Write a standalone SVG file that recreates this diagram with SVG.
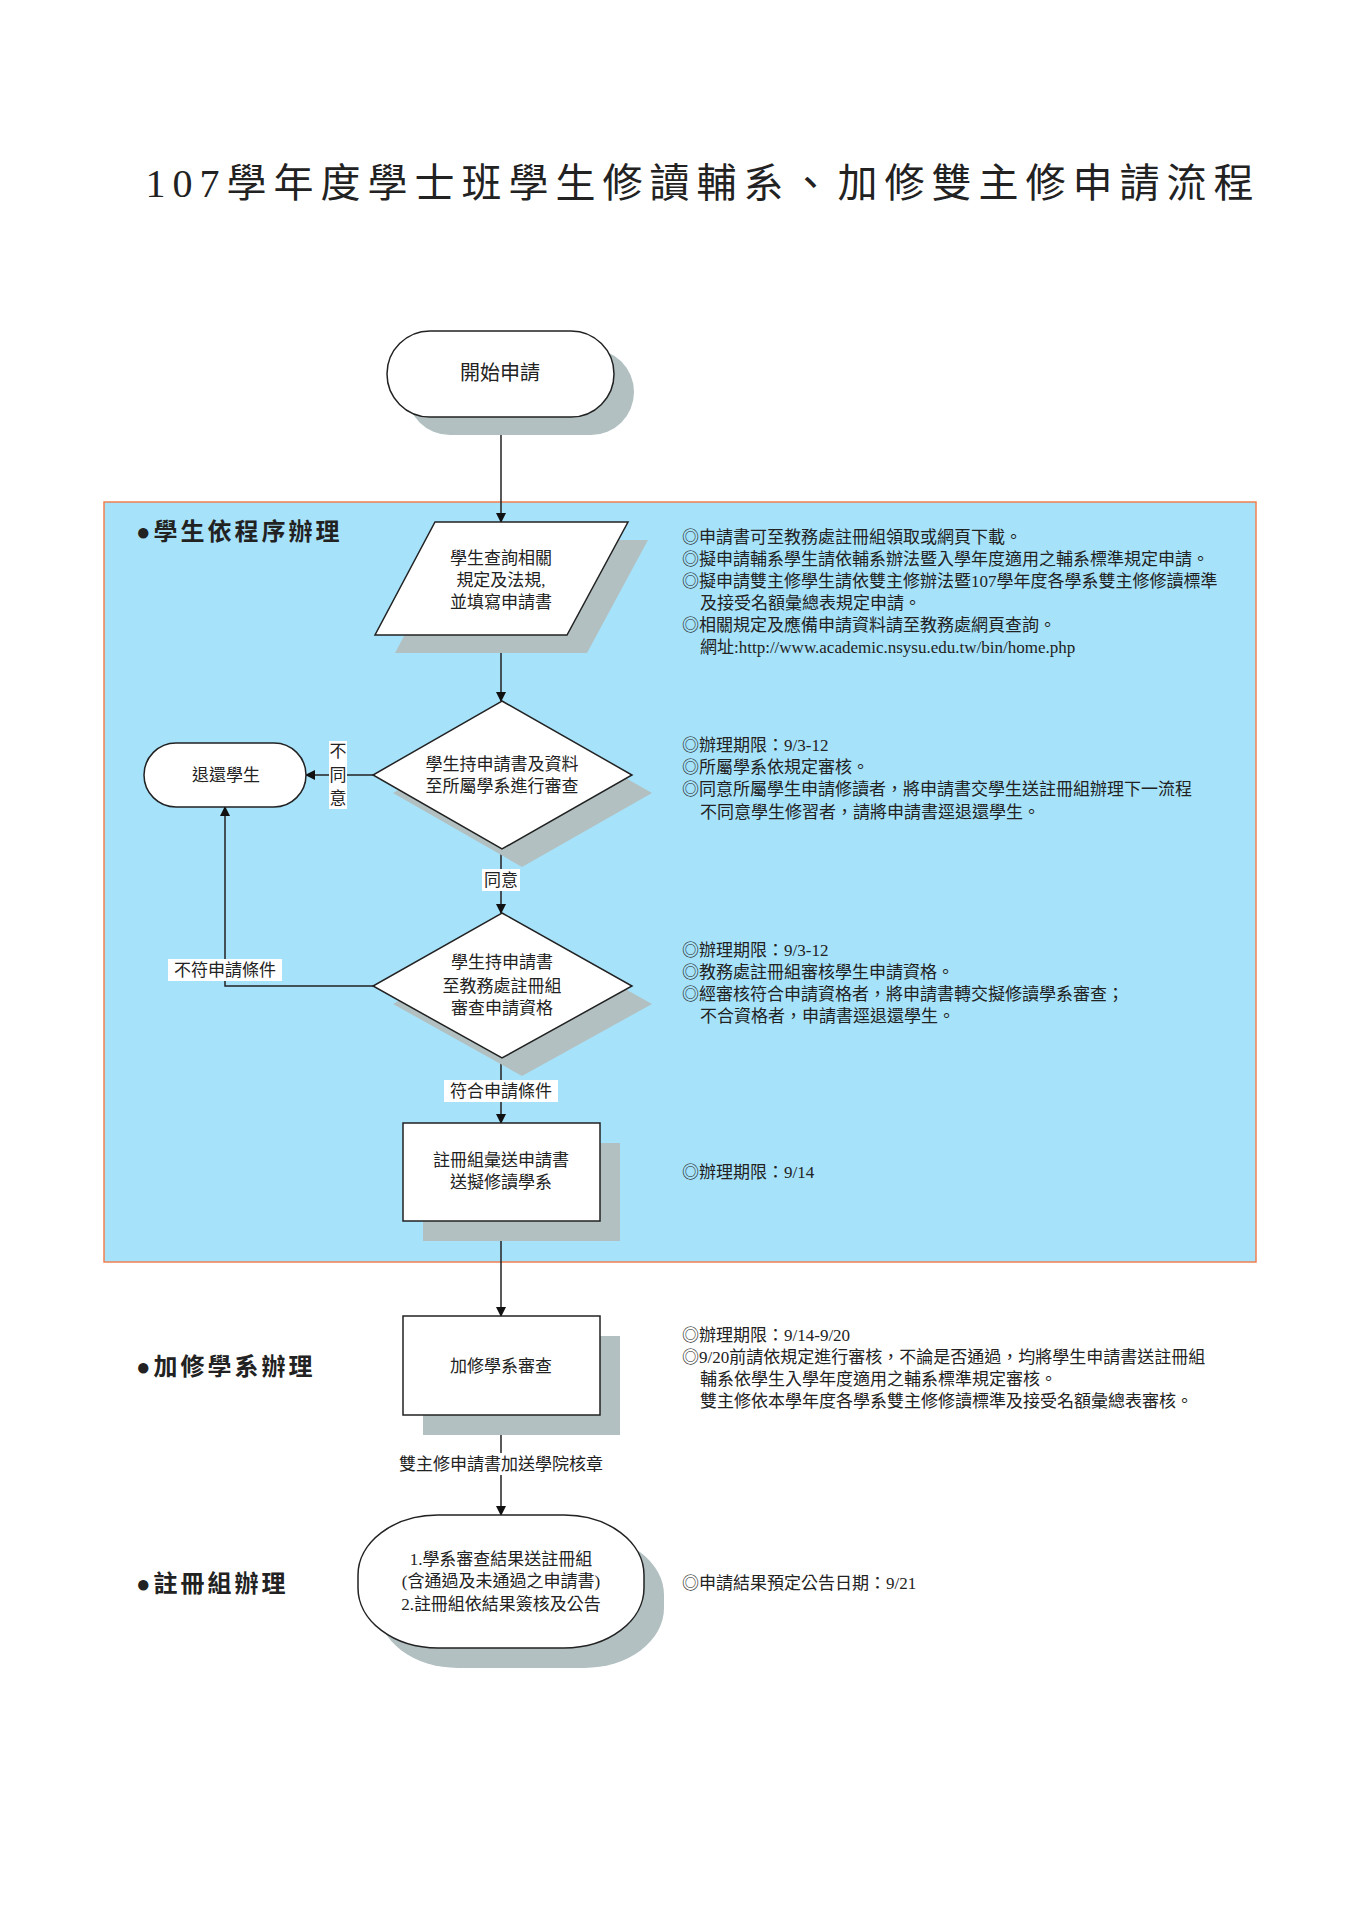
<svg xmlns="http://www.w3.org/2000/svg" width="1357" height="1920" viewBox="0 0 1357 1920">
<style>
text{font-family:"Liberation Serif","Noto Sans CJK TC",serif;fill:#222}
.n{font-size:17px;text-anchor:middle}
.t{font-size:17px}
.sec{font-size:24px;font-weight:bold;letter-spacing:3px}
.sh{fill:#b2c0c1}
.w{fill:#fff;stroke:#222;stroke-width:1.5}
.c{stroke:#222;stroke-width:1.5;fill:none}
.lb{fill:#fff}
</style>
<defs>
<marker id="a" markerWidth="10" markerHeight="10" refX="9" refY="5" orient="auto" markerUnits="userSpaceOnUse">
<path d="M0,0 L10,5 L0,10 Z" fill="#111"/></marker>
</defs>
<rect width="1357" height="1920" fill="#fff"/>
<text x="703" y="197" style="font-size:40px;text-anchor:middle;letter-spacing:7px">107學年度學士班學生修讀輔系、加修雙主修申請流程</text>
<rect x="104" y="502" width="1152" height="760" fill="#a6e3fb" stroke="#f08050" stroke-width="1.5"/>
<text x="136" y="540" class="sec">●學生依程序辦理</text>
<text x="136" y="1375" class="sec">●加修學系辦理</text>
<text x="136" y="1592" class="sec">●註冊組辦理</text>
<g id="connectors">
<line x1="501" y1="417" x2="501" y2="522" class="c" marker-end="url(#a)"/>
<line x1="501" y1="635" x2="501" y2="701" class="c" marker-end="url(#a)"/>
<line x1="373" y1="775" x2="306" y2="775" class="c" marker-end="url(#a)"/>
<line x1="501" y1="849" x2="501" y2="913" class="c" marker-end="url(#a)"/>
<polyline points="373,986 225,986 225,807" class="c" marker-end="url(#a)"/>
<line x1="501" y1="1058" x2="501" y2="1123" class="c" marker-end="url(#a)"/>
<line x1="501" y1="1221" x2="501" y2="1316" class="c" marker-end="url(#a)"/>
<line x1="501" y1="1415" x2="501" y2="1515" class="c" marker-end="url(#a)"/>
<rect x="329" y="741" width="18" height="68" class="lb"/>
<text x="338" y="757" class="n">不</text><text x="338" y="781" class="n">同</text><text x="338" y="804" class="n">意</text>
<rect x="482" y="869" width="38" height="22" class="lb"/><text x="501" y="886" class="n">同意</text>
<rect x="168" y="959" width="114" height="22" class="lb"/><text x="225" y="976" class="n">不符申請條件</text>
<rect x="444" y="1080" width="114" height="22" class="lb"/><text x="501" y="1097" class="n">符合申請條件</text>
<rect x="386" y="1453" width="230" height="22" class="lb"/><text x="501" y="1470" class="n">雙主修申請書加送學院核章</text>
</g>
<g id="start">
<rect x="407" y="349" width="227" height="86" rx="43" class="sh"/>
<rect x="387" y="331" width="227" height="86" rx="43" class="w"/>
<text x="500" y="380" class="n" style="font-size:20px">開始申請</text>
</g>
<g id="input">
<polygon points="455,540 648,540 587,653 395,653" class="sh"/>
<polygon points="435,522 628,522 567,635 375,635" class="w"/>
<text x="501" y="564" class="n">學生查詢相關</text>
<text x="501" y="586" class="n">規定及法規,</text>
<text x="501" y="608" class="n">並填寫申請書</text>
</g>
<g id="dept-review">
<polygon points="522,719 652,793 522,867 393,793" class="sh"/>
<polygon points="502,701 632,775 502,849 373,775" class="w"/>
<text x="502" y="770" class="n">學生持申請書及資料</text>
<text x="502" y="792" class="n">至所屬學系進行審查</text>
</g>
<g id="return">
<rect x="144" y="743" width="162" height="64" rx="32" class="w"/>
<text x="226" y="781" class="n">退還學生</text>
</g>
<g id="reg-review">
<polygon points="522,931 652,1004 522,1076 393,1004" class="sh"/>
<polygon points="502,913 632,986 502,1058 373,986" class="w"/>
<text x="502" y="968" class="n">學生持申請書</text>
<text x="502" y="992" class="n">至教務處註冊組</text>
<text x="502" y="1014" class="n">審查申請資格</text>
</g>
<g id="send">
<rect x="423" y="1143" width="197" height="98" class="sh"/>
<rect x="403" y="1123" width="197" height="98" class="w"/>
<text x="501" y="1166" class="n">註冊組彙送申請書</text>
<text x="501" y="1188" class="n">送擬修讀學系</text>
</g>
<g id="major-review">
<rect x="423" y="1336" width="197" height="99" class="sh"/>
<rect x="403" y="1316" width="197" height="99" class="w"/>
<text x="501" y="1372" class="n">加修學系審查</text>
</g>
<g id="end">
<rect x="378" y="1535" width="286" height="133" rx="80" ry="60" class="sh"/>
<rect x="358" y="1515" width="286" height="133" rx="80" ry="60" class="w"/>
<text x="501" y="1565" class="n">1.學系審查結果送註冊組</text>
<text x="501" y="1587" class="n">(含通過及未通過之申請書)</text>
<text x="501" y="1610" class="n">2.註冊組依結果簽核及公告</text>
</g>
<g id="notes" class="t">
<text x="682" y="543">◎申請書可至教務處註冊組領取或網頁下載。</text>
<text x="682" y="565">◎擬申請輔系學生請依輔系辦法暨入學年度適用之輔系標準規定申請。</text>
<text x="682" y="587">◎擬申請雙主修學生請依雙主修辦法暨107學年度各學系雙主修修讀標準</text>
<text x="700" y="609">及接受名額彙總表規定申請。</text>
<text x="682" y="631">◎相關規定及應備申請資料請至教務處網頁查詢。</text>
<text x="700" y="653">網址:http://www.academic.nsysu.edu.tw/bin/home.php</text>
<text x="682" y="751">◎辦理期限：9/3-12</text>
<text x="682" y="773">◎所屬學系依規定審核。</text>
<text x="682" y="795">◎同意所屬學生申請修讀者，將申請書交學生送註冊組辦理下一流程</text>
<text x="700" y="818">不同意學生修習者，請將申請書逕退還學生。</text>
<text x="682" y="956">◎辦理期限：9/3-12</text>
<text x="682" y="978">◎教務處註冊組審核學生申請資格。</text>
<text x="682" y="1000">◎經審核符合申請資格者，將申請書轉交擬修讀學系審查；</text>
<text x="700" y="1022">不合資格者，申請書逕退還學生。</text>
<text x="682" y="1178">◎辦理期限：9/14</text>
<text x="682" y="1341">◎辦理期限：9/14-9/20</text>
<text x="682" y="1363">◎9/20前請依規定進行審核，不論是否通過，均將學生申請書送註冊組</text>
<text x="700" y="1385">輔系依學生入學年度適用之輔系標準規定審核。</text>
<text x="700" y="1407">雙主修依本學年度各學系雙主修修讀標準及接受名額彙總表審核。</text>
<text x="682" y="1589">◎申請結果預定公告日期：9/21</text>
</g>
</svg>
